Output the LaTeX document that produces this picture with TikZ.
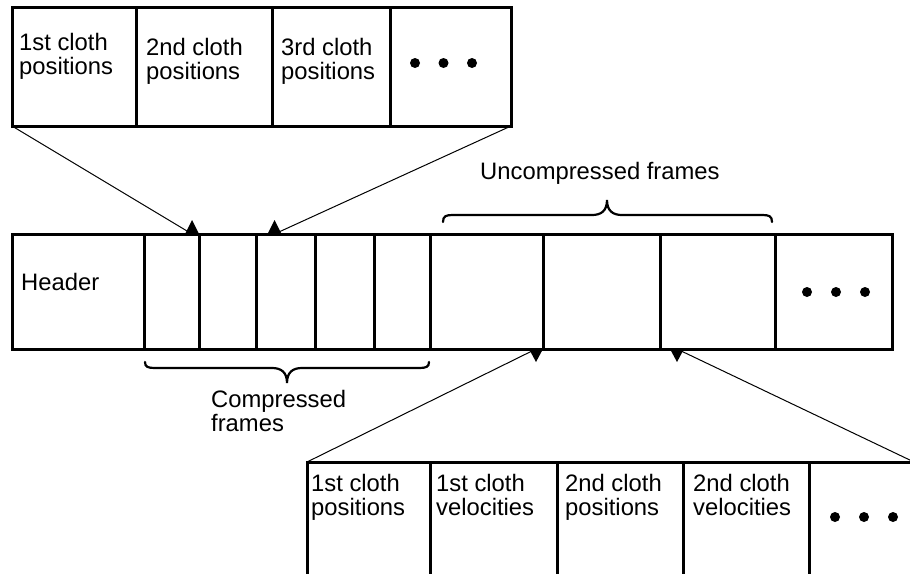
\documentclass[tikz,border=0pt]{standalone}
\usepackage{fontspec}
\setmainfont{Liberation Sans}
\begin{document}
\begin{tikzpicture}[x=1pt,y=-1pt,
  cell/.style={draw=black,line width=3pt,rectangle,inner sep=0pt,outer sep=0pt},
  lbl/.style={anchor=base west,inner sep=0pt,font=\fontsize{23.8}{24}\selectfont},
  conn/.style={draw=black,line width=1pt},
  bracestyle/.style={draw=black,line width=2.2pt,line cap=round},
  tip/.style={fill=black},
  dot/.style={fill=black}]
\useasboundingbox (0,0) rectangle (910,573);
\clip (0,0) rectangle (910,573);
% top box
\node[cell,minimum width=124pt,minimum height=119pt] (t1) at (74,66.5) {};
\node[cell,minimum width=136pt,minimum height=119pt] (t2) at (204,66.5) {};
\node[cell,minimum width=118pt,minimum height=119pt] (t3) at (331,66.5) {};
\node[cell,minimum width=121pt,minimum height=119pt] (t4) at (450.5,66.5) {};
\node[lbl] (lt1) at (19,50) {\parbox[t]{115pt}{1st cloth\\positions}};
\node[lbl] (lt2) at (146,55) {\parbox[t]{115pt}{2nd cloth\\positions}};
\node[lbl] (lt3) at (281,55) {\parbox[t]{115pt}{3rd cloth\\positions}};
\fill[dot] (415,63) circle (5pt) (443.5,63) circle (5pt) (472,63) circle (5pt);
% middle row
\node[cell,minimum width=132pt,minimum height=114.5pt] (hd) at (78,291.75) {};
\node[cell,minimum width=55pt,minimum height=114.5pt] (c1) at (171.5,291.75) {};
\node[cell,minimum width=57pt,minimum height=114.5pt] (c2) at (227.5,291.75) {};
\node[cell,minimum width=59pt,minimum height=114.5pt] (c3) at (285.5,291.75) {};
\node[cell,minimum width=59pt,minimum height=114.5pt] (c4) at (344.5,291.75) {};
\node[cell,minimum width=56pt,minimum height=114.5pt] (c5) at (402,291.75) {};
\node[cell,minimum width=113pt,minimum height=114.5pt] (u1) at (486.5,291.75) {};
\node[cell,minimum width=117pt,minimum height=114.5pt] (u2) at (601.5,291.75) {};
\node[cell,minimum width=115pt,minimum height=114.5pt] (u3) at (717.5,291.75) {};
\node[cell,minimum width=117pt,minimum height=114.5pt] (md) at (833.5,291.75) {};
\node[lbl] (lhd) at (21,290) {Header};
\fill[dot] (807,292) circle (5pt) (836,292) circle (5pt) (865,292) circle (5pt);
% bottom box
\node[cell,minimum width=123pt,minimum height=158pt] (b1) at (368.5,541) {};
\node[cell,minimum width=127pt,minimum height=158pt] (b2) at (493.5,541) {};
\node[cell,minimum width=126pt,minimum height=158pt] (b3) at (620,541) {};
\node[cell,minimum width=126pt,minimum height=158pt] (b4) at (746,541) {};
\node[cell,minimum width=105pt,minimum height=158pt] (b5) at (861.5,541) {};
\node[lbl] (lb1) at (311,491) {\parbox[t]{115pt}{1st cloth\\positions}};
\node[lbl] (lb2) at (436,491) {\parbox[t]{115pt}{1st cloth\\velocities}};
\node[lbl] (lb3) at (565,491) {\parbox[t]{115pt}{2nd cloth\\positions}};
\node[lbl] (lb4) at (693,491) {\parbox[t]{115pt}{2nd cloth\\velocities}};
\fill[dot] (835,517) circle (5pt) (864,517) circle (5pt) (893,517) circle (5pt);
% braces and their labels
\draw[bracestyle] (443,222) .. controls (443,216) and (446,215) .. (453,215) -- (592,215)
  .. controls (601,215) and (607,211) .. (607,200)
  .. controls (607,211) and (613,215) .. (622,215) -- (762,215)
  .. controls (769,215) and (772,216) .. (772,222);
\node[lbl] (lunc) at (480,179) {Uncompressed frames};
\draw[bracestyle] (145,362) .. controls (145,367) and (148,368) .. (155,368) -- (272,368)
  .. controls (281,368) and (287,372) .. (287,383)
  .. controls (287,372) and (293,368) .. (302,368) -- (419,368)
  .. controls (426,368) and (429,367) .. (429,362);
\node[lbl] (lcmp) at (211,407) {\parbox[t]{150pt}{Compressed\\frames}};
% connectors
\coordinate (a1) at (192,234);
\coordinate (a2) at (274.5,234);
\coordinate (a3) at (536,349);
\coordinate (a4) at (677,349);
\draw[conn] (t1.south west) -- (a1);
\draw[conn] (t4.south east) -- (a2);
\draw[conn] (b1.north west) -- (a3);
\draw[conn] (b5.north east) -- (a4);
\fill[tip] (a1) ++(-7.5,1) -- ++(15,0) -- ++(-7.5,-15) -- cycle;
\fill[tip] (a2) ++(-7.5,1) -- ++(15,0) -- ++(-7.5,-15) -- cycle;
\fill[tip] (a3) ++(-7.5,-1) -- ++(15,0) -- ++(-7.5,14) -- cycle;
\fill[tip] (a4) ++(-7.5,-1) -- ++(15,0) -- ++(-7.5,14) -- cycle;
\end{tikzpicture}
\end{document}
